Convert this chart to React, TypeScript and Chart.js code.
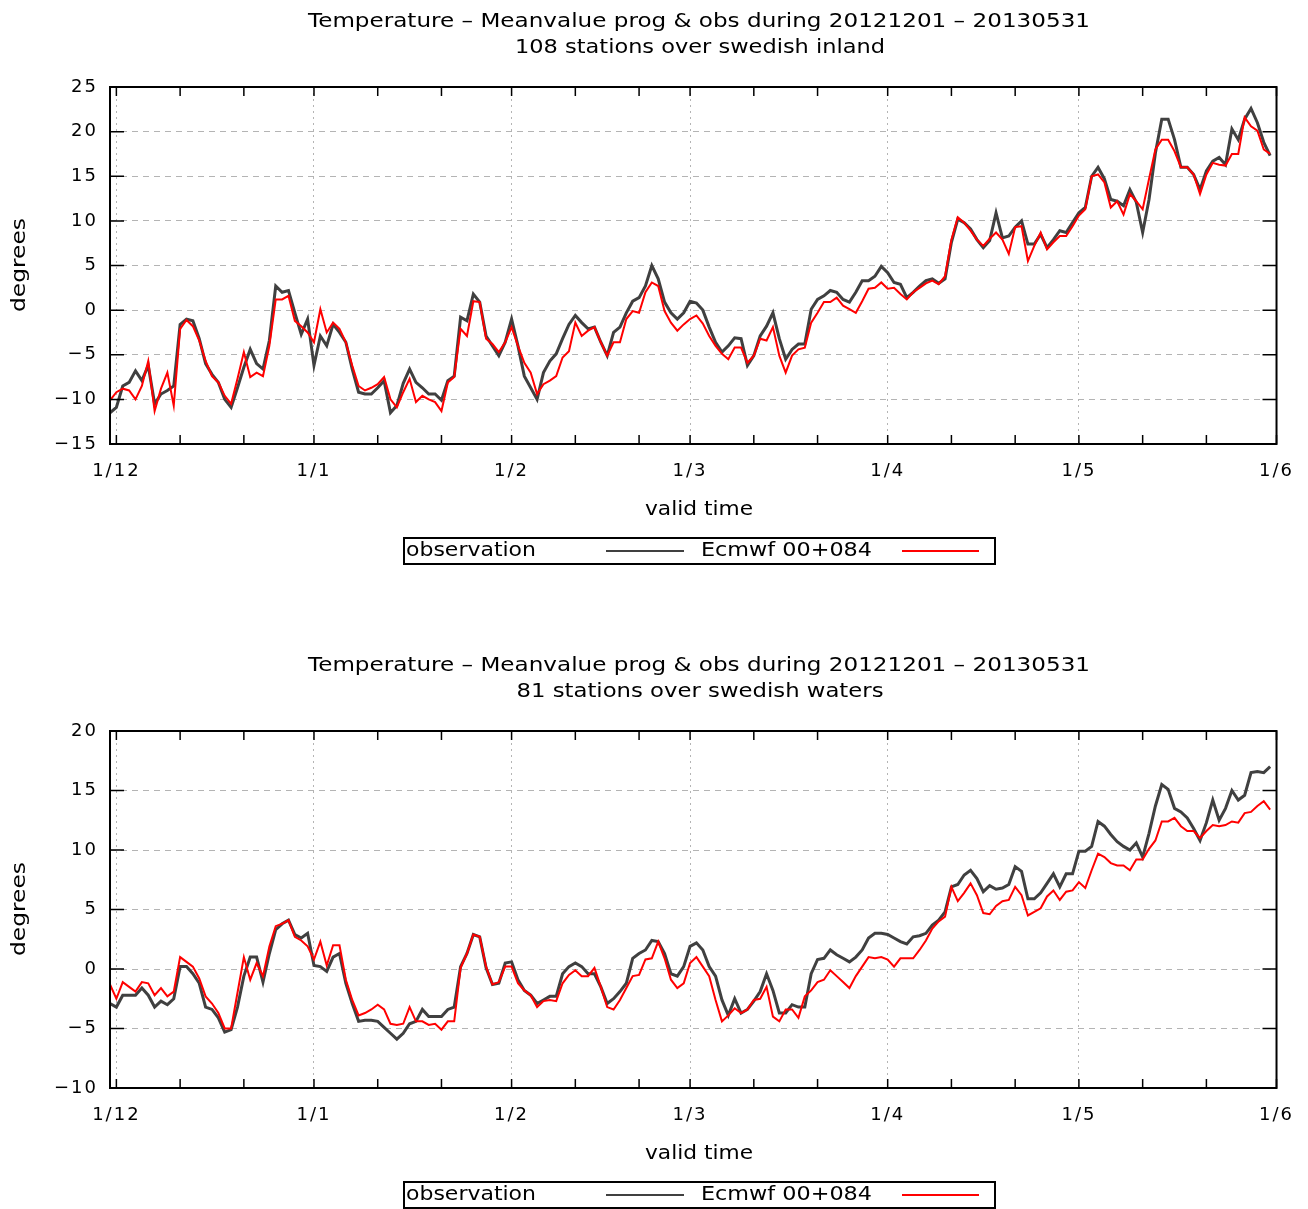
import React, { useEffect, useRef } from "react";
import { Chart, registerables } from "chart.js";

Chart.register(...registerables);

// ---------- data ----------
// day index 0 = 1 Dec 2012; series start on 30 Nov 2012 (day -1), one value per day up to 31 May 2013 (day 181)
const FIRST_DAY = -1;
const X_MIN = -1;
const X_MAX = 182;

const MONTH_TICK_DAYS = [0, 31, 62, 90, 121, 151, 182];
const MONTH_TICK_LABELS = ["1/12", "1/1", "1/2", "1/3", "1/4", "1/5", "1/6"];
const MINOR_TICK_OFFSETS = [10, 20];

const TITLE_LINE = "Temperature \u2013 Meanvalue prog & obs during 20121201 \u2013 20130531";
const INLAND_SUBTITLE = "108 stations over swedish inland";
const WATERS_SUBTITLE = "81 stations over swedish waters";
const Y_TITLE = "degrees";
const X_TITLE = "valid time";
const SERIES_NAMES = ["observation", "Ecmwf 00+084"];

const INLAND_OBS = [
  -11.5, -10.9, -8.5, -8.1, -6.8, -7.9, -6.2, -10.5, -9.4, -9.0,
  -8.5, -1.6, -1.0, -1.2, -3.2, -6.0, -7.2, -8.1, -10.0, -10.9,
  -8.7, -6.4, -4.4, -6.0, -6.6, -3.4, 2.7, 2.0, 2.2, -0.3,
  -2.7, -1.0, -6.2, -2.9, -4.0, -1.6, -2.5, -3.6, -6.6, -9.2,
  -9.4, -9.4, -8.7, -7.9, -11.5, -10.7, -8.2, -6.6, -8.1, -8.7,
  -9.4, -9.4, -10.1, -7.9, -7.4, -0.8, -1.2, 1.8, 0.9, -2.9,
  -4.0, -5.1, -3.6, -1.0, -4.0, -7.4, -8.7, -10.0, -7.0, -5.7,
  -4.9, -3.2, -1.6, -0.6, -1.4, -2.1, -1.9, -3.6, -5.1, -2.5,
  -1.9, -0.3, 1.0, 1.4, 2.7, 5.0, 3.5, 0.9, -0.3, -1.0,
  -0.3, 1.0, 0.8, 0.0, -1.9, -3.6, -4.7, -4.0, -3.1, -3.2,
  -6.2, -5.1, -2.9, -1.8, -0.3, -3.2, -5.5, -4.4, -3.8, -3.8,
  0.1, 1.2, 1.6, 2.2, 2.0, 1.2, 0.9, 2.0, 3.3, 3.3,
  3.8, 4.9, 4.2, 3.1, 2.9, 1.4, 2.0, 2.7, 3.3, 3.5,
  3.0, 3.5, 7.6, 10.2, 9.8, 9.1, 7.9, 7.0, 7.8, 10.9,
  8.1, 8.3, 9.3, 10.0, 7.4, 7.4, 8.5, 7.0, 7.9, 8.9,
  8.7, 9.8, 10.9, 11.5, 15.0, 16.0, 14.7, 12.4, 12.2, 11.7,
  13.5, 12.1, 8.7, 12.4, 17.6, 21.4, 21.4, 19.1, 16.0, 16.0,
  15.2, 13.5, 15.6, 16.7, 17.1, 16.3, 20.3, 19.1, 21.4, 22.6,
  21.0, 18.8, 17.3,
];

const INLAND_FC = [
  -10.1, -9.2, -8.8, -9.0, -10.0, -8.5, -5.7, -11.3, -8.8, -7.0,
  -10.7, -2.1, -1.1, -1.8, -3.4, -5.7, -7.4, -8.1, -9.6, -10.5,
  -7.7, -4.7, -7.5, -7.0, -7.4, -4.0, 1.2, 1.2, 1.6, -1.2,
  -1.8, -2.5, -3.6, 0.1, -2.5, -1.4, -2.1, -3.6, -6.2, -8.5,
  -9.0, -8.7, -8.3, -7.5, -10.0, -10.9, -9.2, -7.7, -10.3, -9.6,
  -10.0, -10.3, -11.3, -8.1, -7.5, -2.1, -2.9, 1.0, 0.9, -3.2,
  -3.8, -4.7, -3.6, -1.9, -4.0, -5.9, -7.0, -9.4, -8.3, -7.9,
  -7.4, -5.3, -4.6, -1.4, -2.9, -2.3, -1.9, -3.6, -5.1, -3.6,
  -3.6, -1.0, -0.1, -0.3, 2.0, 3.1, 2.7, -0.1, -1.4, -2.3,
  -1.6, -1.0, -0.6, -1.5, -2.9, -4.0, -4.9, -5.5, -4.2, -4.2,
  -5.9, -5.1, -3.2, -3.4, -1.9, -5.1, -7.0, -5.1, -4.4, -4.2,
  -1.4, -0.3, 0.9, 0.9, 1.4, 0.5, 0.1, -0.3, 1.0, 2.4,
  2.5, 3.1, 2.4, 2.5, 1.8, 1.2, 2.0, 2.5, 3.0, 3.3,
  2.9, 3.8, 7.9, 10.4, 9.8, 8.9, 7.9, 7.2, 8.0, 8.7,
  7.9, 6.3, 9.3, 9.4, 5.5, 7.2, 8.7, 6.8, 7.6, 8.3,
  8.3, 9.4, 10.6, 11.3, 15.0, 15.2, 14.3, 11.5, 12.2, 10.7,
  13.0, 12.2, 11.3, 14.7, 18.0, 19.1, 19.1, 17.8, 16.0, 16.0,
  15.2, 13.0, 15.2, 16.5, 16.3, 16.2, 17.5, 17.5, 21.6, 20.6,
  20.1, 18.0, 17.5,
];

const WATERS_OBS = [
  -2.9, -3.2, -2.2, -2.2, -2.2, -1.6, -2.2, -3.2, -2.7, -3.0,
  -2.5, 0.2, 0.2, -0.4, -1.2, -3.2, -3.4, -4.1, -5.3, -5.1,
  -3.2, -0.6, 1.0, 1.0, -1.1, 1.3, 3.3, 3.8, 4.1, 2.9,
  2.6, 3.0, 0.3, 0.2, -0.2, 1.0, 1.3, -1.2, -2.9, -4.4,
  -4.3, -4.3, -4.4, -4.9, -5.4, -5.9, -5.4, -4.6, -4.4, -3.4,
  -4.0, -4.0, -4.0, -3.4, -3.2, 0.2, 1.3, 2.9, 2.7, 0.1,
  -1.3, -1.2, 0.5, 0.6, -0.9, -1.8, -2.2, -2.9, -2.6, -2.3,
  -2.3, -0.4, 0.2, 0.5, 0.2, -0.4, -0.4, -1.5, -2.9, -2.5,
  -1.9, -1.2, 0.9, 1.3, 1.6, 2.4, 2.3, 1.3, -0.4, -0.6,
  0.2, 1.9, 2.2, 1.6, 0.2, -0.6, -2.6, -3.9, -2.5, -3.7,
  -3.4, -2.7, -1.9, -0.4, -1.8, -3.7, -3.7, -3.0, -3.2, -3.2,
  -0.4, 0.8, 0.9, 1.6, 1.2, 0.9, 0.6, 1.0, 1.6, 2.6,
  3.0, 3.0, 2.9, 2.6, 2.3, 2.1, 2.7, 2.8, 3.0, 3.7,
  4.1, 4.8, 6.9, 7.1, 7.9, 8.3, 7.6, 6.5, 7.0, 6.7,
  6.8, 7.1, 8.6, 8.2, 5.9, 5.9, 6.4, 7.2, 8.0, 6.9,
  8.0, 8.0, 9.9, 9.9, 10.3, 12.4, 12.0, 11.3, 10.7, 10.3,
  10.0, 10.6, 9.4, 11.4, 13.7, 15.5, 15.1, 13.5, 13.2, 12.7,
  11.8, 10.8, 12.3, 14.2, 12.5, 13.5, 15.0, 14.2, 14.6, 16.5,
  16.6, 16.5, 17.0,
];

const WATERS_FC = [
  -1.3, -2.5, -1.1, -1.5, -1.9, -1.1, -1.2, -2.2, -1.6, -2.3,
  -1.9, 1.0, 0.6, 0.2, -0.8, -2.3, -2.9, -3.7, -5.0, -5.0,
  -2.0, 1.0, -0.9, 0.5, -0.6, 1.9, 3.6, 3.8, 4.1, 2.7,
  2.4, 1.9, 0.8, 2.3, 0.3, 2.0, 2.0, -0.9, -2.6, -3.9,
  -3.7, -3.4, -3.0, -3.4, -4.6, -4.7, -4.6, -3.2, -4.4, -4.4,
  -4.7, -4.6, -5.1, -4.4, -4.4, 0.1, 1.3, 2.9, 2.7, 0.2,
  -1.3, -1.1, 0.2, 0.2, -1.2, -1.8, -2.2, -3.2, -2.7, -2.6,
  -2.7, -1.2, -0.5, -0.1, -0.6, -0.6, 0.1, -1.5, -3.2, -3.4,
  -2.6, -1.6, -0.6, -0.5, 0.8, 0.9, 2.3, 0.9, -0.9, -1.6,
  -1.2, 0.5, 1.0, 0.2, -0.6, -2.6, -4.4, -3.9, -3.3, -3.7,
  -3.4, -2.6, -2.5, -1.5, -4.0, -4.4, -3.4, -3.4, -4.1, -2.3,
  -1.8, -1.1, -0.9, -0.1, -0.6, -1.1, -1.6, -0.6, 0.2, 1.0,
  0.9, 1.0, 0.8, 0.2, 0.9, 0.9, 0.9, 1.6, 2.4, 3.4,
  4.0, 4.4, 6.9, 5.7, 6.4, 7.2, 6.2, 4.7, 4.6, 5.3,
  5.7, 5.8, 6.9, 6.2, 4.5, 4.8, 5.1, 6.1, 6.6, 5.8,
  6.5, 6.6, 7.3, 6.8, 8.3, 9.7, 9.4, 8.9, 8.7, 8.7,
  8.3, 9.2, 9.2, 10.1, 10.8, 12.4, 12.4, 12.7, 12.0, 11.6,
  11.6, 11.0, 11.6, 12.1, 12.0, 12.1, 12.4, 12.3, 13.1, 13.2,
  13.7, 14.1, 13.4,
];

// ---------- styles ----------
const OBS_COLOR = "#404040";
const FC_COLOR = "#ff0000";
const GRID_COLOR = "#b4b4b4";
const TEXT_FONT = "19px 'DejaVu Sans'";
const CANVAS_W = 1308;
const CANVAS_H = 644;

const X_TICK_VALUES: number[] = (() => {
  const out: number[] = [];
  MONTH_TICK_DAYS.forEach((d, i) => {
    out.push(d);
    if (i < MONTH_TICK_DAYS.length - 1) {
      MINOR_TICK_OFFSETS.forEach((o) => out.push(d + o));
    }
  });
  return out;
})();

function drawStretched(
  ctx: CanvasRenderingContext2D,
  text: string,
  x: number,
  y: number,
  targetW: number,
  align: CanvasTextAlign = "center",
  rotate = 0
) {
  ctx.save();
  ctx.letterSpacing = "0px";
  ctx.font = TEXT_FONT;
  ctx.fillStyle = "#000";
  ctx.textBaseline = "middle";
  ctx.textAlign = align;
  const w = ctx.measureText(text).width;
  ctx.translate(x, y);
  if (rotate) ctx.rotate(rotate);
  ctx.scale(targetW / w, 1);
  ctx.fillText(text, 0, 0);
  ctx.restore();
}

type PanelProps = {
  top: number;
  obs: number[];
  fc: number[];
  yMin: number;
  yMax: number;
  subtitle: string;
  subtitleWidth: number;
};

function Panel({ top, obs, fc, yMin, yMax, subtitle, subtitleWidth }: PanelProps) {
  const ref = useRef<HTMLCanvasElement | null>(null);

  useEffect(() => {
    if (!ref.current) return;

    const decor = {
      id: "gnuplotDecor",
      beforeDraw(chart: any) {
        chart.ctx.letterSpacing = "2px";
      },
      afterDatasetsDraw(chart: any) {
        const ctx: CanvasRenderingContext2D = chart.ctx;
        const { left, right, top: t, bottom } = chart.chartArea;
        const xs = chart.scales.x;
        const ys = chart.scales.y;
        ctx.save();
        ctx.strokeStyle = "#000";
        ctx.lineWidth = 1.5;
        ctx.beginPath();
        xs.ticks.forEach((tk: any) => {
          const px = xs.getPixelForValue(tk.value);
          ctx.moveTo(px, bottom);
          ctx.lineTo(px, bottom - 9);
          ctx.moveTo(px, t);
          ctx.lineTo(px, t + 9);
        });
        ys.ticks.forEach((tk: any) => {
          const py = ys.getPixelForValue(tk.value);
          ctx.moveTo(left, py);
          ctx.lineTo(left + 14, py);
          ctx.moveTo(right, py);
          ctx.lineTo(right - 14, py);
        });
        ctx.stroke();
        ctx.lineWidth = 2;
        ctx.strokeRect(left, t, right - left, bottom - t);
        ctx.restore();
      },
      afterDraw(chart: any) {
        const ctx: CanvasRenderingContext2D = chart.ctx;
        drawStretched(ctx, TITLE_LINE, 699, 22, 782);
        drawStretched(ctx, subtitle, 700, 48, subtitleWidth);
        drawStretched(ctx, Y_TITLE, 20, 265, 94, "center", -Math.PI / 2);
        drawStretched(ctx, X_TITLE, 699, 510, 108);
        // legend
        ctx.save();
        ctx.strokeStyle = "#000";
        ctx.lineWidth = 2;
        ctx.strokeRect(404, 538, 591, 26);
        ctx.lineWidth = 2;
        ctx.strokeStyle = OBS_COLOR;
        ctx.beginPath();
        ctx.moveTo(606, 551);
        ctx.lineTo(684, 551);
        ctx.stroke();
        ctx.strokeStyle = FC_COLOR;
        ctx.beginPath();
        ctx.moveTo(902, 551);
        ctx.lineTo(979, 551);
        ctx.stroke();
        ctx.restore();
        drawStretched(ctx, SERIES_NAMES[0], 406, 551, 130, "left");
        drawStretched(ctx, SERIES_NAMES[1], 701, 551, 171, "left");
      },
    };

    const toPoints = (arr: number[]) => arr.map((y, i) => ({ x: FIRST_DAY + i, y }));

    const chart = new Chart(ref.current, {
      type: "line",
      data: {
        datasets: [
          {
            label: SERIES_NAMES[0],
            data: toPoints(obs),
            borderColor: OBS_COLOR,
            borderWidth: 3,
            pointRadius: 0,
            tension: 0,
            fill: false,
            order: 1,
          },
          {
            label: SERIES_NAMES[1],
            data: toPoints(fc),
            borderColor: FC_COLOR,
            borderWidth: 2,
            pointRadius: 0,
            tension: 0,
            fill: false,
            order: 0,
          },
        ],
      },
      options: {
        responsive: false,
        animation: false,
        devicePixelRatio: 1,
        events: [],
        layout: { padding: { left: 0, right: 20, top: 87, bottom: 0 } },
        plugins: {
          legend: { display: false },
          title: { display: false },
          tooltip: { enabled: false },
        },
        scales: {
          x: {
            type: "linear",
            min: X_MIN,
            max: X_MAX,
            afterBuildTicks: (s: any) => {
              s.ticks = X_TICK_VALUES.map((v) => ({ value: v }));
            },
            afterFit: (s: any) => {
              s.height = CANVAS_H - 444;
            },
            grid: {
              drawTicks: false,
              lineWidth: 1,
              color: (c: any) =>
                c.tick && MONTH_TICK_DAYS.includes(c.tick.value) ? GRID_COLOR : "rgba(0,0,0,0)",
            },
            border: { display: false, dash: [2, 4] },
            ticks: {
              autoSkip: false,
              maxRotation: 0,
              minRotation: 0,
              padding: 17,
              color: "#000",
              font: { family: "'DejaVu Sans'", size: 18 },
              callback: (v: any) => {
                const i = MONTH_TICK_DAYS.indexOf(Number(v));
                return i >= 0 ? MONTH_TICK_LABELS[i] : "";
              },
            },
          },
          y: {
            min: yMin,
            max: yMax,
            afterFit: (s: any) => {
              s.width = 110;
            },
            grid: { drawTicks: false, lineWidth: 1, color: GRID_COLOR },
            border: { display: false, dash: [6, 5] },
            ticks: {
              stepSize: 5,
              padding: 12,
              color: "#000",
              font: { family: "'DejaVu Sans'", size: 18 },
              callback: (v: any) => (Number(v) < 0 ? "\u2212" + Math.abs(Number(v)) : String(v)),
            },
          },
        },
      },
      plugins: [decor],
    } as any);

    return () => chart.destroy();
  }, [obs, fc, yMin, yMax, subtitle, subtitleWidth]);

  return (
    <canvas
      ref={ref}
      width={CANVAS_W}
      height={CANVAS_H}
      style={{ position: "absolute", left: 0, top, display: "block" }}
    />
  );
}

export default function App() {
  return (
    <div
      style={{
        position: "fixed",
        left: 0,
        top: 0,
        width: 1308,
        height: 1209,
        overflow: "hidden",
        background: "#fff",
      }}
    >
      <Panel top={0} obs={INLAND_OBS} fc={INLAND_FC} yMin={-15} yMax={25} subtitle={INLAND_SUBTITLE} subtitleWidth={370} />
      <Panel top={644} obs={WATERS_OBS} fc={WATERS_FC} yMin={-10} yMax={20} subtitle={WATERS_SUBTITLE} subtitleWidth={367} />
    </div>
  );
}
